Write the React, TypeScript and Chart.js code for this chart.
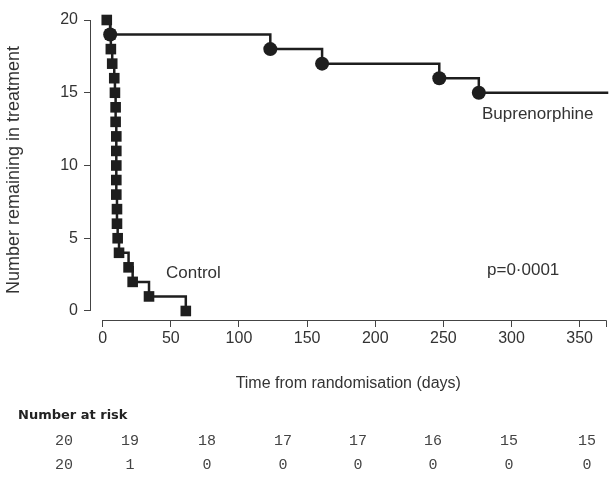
import React, { useEffect, useRef } from 'react';
import { Chart, registerables } from 'chart.js';

Chart.register(...registerables);

// ---- Data ----
const controlDays = [3, 5.5, 6, 7, 8.5, 9, 9.5, 9.5, 10, 10, 10, 10, 10, 10.5, 10.5, 11, 12, 19, 22, 34, 61];
const controlCounts = [20, 19, 18, 17, 16, 15, 14, 13, 12, 11, 10, 9, 8, 7, 6, 5, 4, 3, 2, 1, 0];
const bupDays = [3, 5.5, 123, 161, 247, 276, 371];
const bupCounts = [20, 19, 18, 17, 16, 15, 15];
const bupMarked = [false, true, true, true, true, true, false];

const xTicks = [0, 50, 100, 150, 200, 250, 300, 350];
const yTicks = [0, 5, 10, 15, 20];

const riskLabel = 'Number at risk';
const riskBuprenorphine = [20, 19, 18, 17, 17, 16, 15, 15];
const riskControl = [20, 1, 0, 0, 0, 0, 0, 0];

const xTitle = 'Time from randomisation (days)';
const yTitle = 'Number remaining in treatment';
const pValueText = 'p=0·0001';

const INK = '#1e1e1e';
const TEXT = '#333333';
const FONT = "'Liberation Sans', Arial, sans-serif";

export default function App() {
  const ref = useRef<HTMLCanvasElement | null>(null);

  useEffect(() => {
    const canvas = ref.current;
    if (!canvas) return;

    const overlay = {
      id: 'overlay',
      afterDraw(chart: any) {
        const ctx = chart.ctx;
        const xs = chart.scales.x;
        const ys = chart.scales.y;
        ctx.save();
        // axis lines (offset style)
        ctx.strokeStyle = '#444';
        ctx.lineWidth = 1;
        ctx.beginPath();
        ctx.moveTo(xs.left + 0.5, ys.getPixelForValue(yTicks[0]));
        ctx.lineTo(xs.left + 0.5, ys.getPixelForValue(yTicks[yTicks.length - 1]));
        ctx.stroke();
        ctx.beginPath();
        ctx.moveTo(xs.getPixelForValue(xTicks[0]), ys.bottom + 0.5);
        ctx.lineTo(xs.right, ys.bottom + 0.5);
        ctx.lineTo(xs.right, ys.bottom + 7);
        ctx.stroke();

        // annotations
        ctx.fillStyle = TEXT;
        ctx.font = `17px ${FONT}`;
        ctx.textBaseline = 'middle';
        ctx.textAlign = 'left';
        ctx.fillText('Control', 166, 273);
        ctx.fillText(pValueText, 487, 270);
        ctx.fillText('Buprenorphine', 482, 114);

        // number at risk table
        ctx.font = `bold 13px 'DejaVu Sans', sans-serif`;
        ctx.fillStyle = '#222';
        ctx.fillText(riskLabel, 18, 416);
        const cols = [64, 130, 207, 283, 358, 433, 509, 587];
        ctx.font = `15px 'Liberation Mono', 'DejaVu Sans Mono', monospace`;
        ctx.fillStyle = '#444';
        ctx.textAlign = 'center';
        riskBuprenorphine.forEach((v, i) => ctx.fillText(String(v), cols[i], 441));
        riskControl.forEach((v, i) => ctx.fillText(String(v), cols[i], 465));
        ctx.restore();
      },
    };

    const chart = new Chart(canvas, {
      type: 'line',
      data: {
        datasets: [
          {
            label: 'Buprenorphine',
            data: bupDays.map((d, i) => ({ x: d, y: bupCounts[i] })),
            stepped: true,
            borderColor: INK,
            borderWidth: 2.5,
            backgroundColor: INK,
            pointStyle: 'circle',
            pointRadius: bupMarked.map((m) => (m ? 7 : 0)),
            pointBorderWidth: 0,
            clip: false,
          },
          {
            label: 'Control',
            data: controlDays.map((d, i) => ({ x: d, y: controlCounts[i] })),
            stepped: true,
            borderColor: INK,
            borderWidth: 2.5,
            backgroundColor: INK,
            pointStyle: 'rect',
            pointRadius: 7.5,
            pointBorderWidth: 0,
            clip: false,
          },
        ],
      },
      options: {
        animation: false,
        responsive: false,
        maintainAspectRatio: false,
        layout: { padding: { left: 0, right: 4, top: 20, bottom: 85.4 } },
        plugins: { legend: { display: false }, tooltip: { enabled: false } },
        scales: {
          x: {
            type: 'linear',
            min: -9.3,
            max: 369.7,
            afterBuildTicks: (s: any) => {
              s.ticks = xTicks.map((v) => ({ value: v }));
            },
            afterFit: (s: any) => {
              s.height = 73.6;
            },
            border: { display: false },
            grid: { drawOnChartArea: false, drawTicks: true, tickLength: 7, color: '#444', lineWidth: 1 },
            ticks: { color: TEXT, font: { family: FONT, size: 16 }, padding: 2, maxRotation: 0, autoSkip: false },
            title: { display: true, text: xTitle, color: TEXT, font: { family: FONT, size: 16 }, padding: { top: 0, bottom: 0 } },
          },
          y: {
            type: 'linear',
            min: -0.62,
            max: 20,
            afterBuildTicks: (s: any) => {
              s.ticks = yTicks.map((v) => ({ value: v }));
            },
            afterFit: (s: any) => {
              s.width = 90;
            },
            border: { display: false },
            grid: { drawOnChartArea: false, drawTicks: true, tickLength: 6, color: '#444', lineWidth: 1 },
            ticks: { color: TEXT, font: { family: FONT, size: 16 }, padding: 6 },
            title: { display: true, text: yTitle, color: TEXT, font: { family: FONT, size: 18 }, padding: { top: 3, bottom: 0 } },
          },
        },
      },
      plugins: [overlay],
    });

    return () => chart.destroy();
  }, []);

  return (
    <div style={{ position: 'fixed', left: 0, top: 0, width: 614, height: 479, background: '#fff' }}>
      <canvas ref={ref} width={614} height={479} style={{ display: 'block', width: 614, height: 479 }} />
    </div>
  );
}
